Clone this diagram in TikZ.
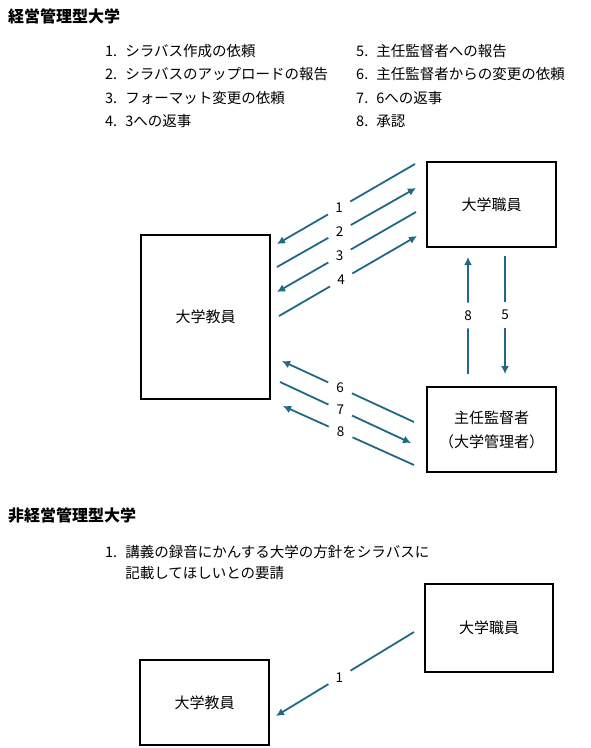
\documentclass[tikz,border=0pt]{standalone}
\usepackage{fontspec}
\setmainfont{Noto Sans CJK JP}
\usetikzlibrary{positioning}
\usetikzlibrary{arrows.meta}
\definecolor{flowc}{RGB}{31,104,134}

\begin{document}
\begin{tikzpicture}[x=1pt,y=-1pt,
    box/.style={draw,line width=2.2pt,minimum width=129pt,minimum height=85pt,
        font=\fontsize{15}{24}\selectfont,align=center},
    flow/.style={draw=flowc,line width=1.8pt,-{Latex[length=8pt,width=8pt]}},
    num/.style={circle,fill=white,inner sep=0pt,minimum size=26pt,
        font=\fontsize{13.5}{13.5}\selectfont},
    item/.style={anchor=west,inner sep=0pt,font=\fontsize{14.5}{21}\selectfont},
    head/.style={anchor=west,inner sep=0pt,font=\fontsize{16}{16}\selectfont\bfseries}]
    \useasboundingbox (0,0) rectangle (590,748);

    % 経営管理型大学
    \node[head] (title1) at (8,16) {経営管理型大学};
    \foreach \t [count=\i] in {シラバス作成の依頼,シラバスのアップロードの報告,
        フォーマット変更の依頼,3への返事}
        \node[item] (l\i) at (105,51+23.3*\i-23.3) {\i.\hspace{0.55em}\t};
    \foreach \t [count=\i from 5] in {主任監督者への報告,主任監督者からの変更の依頼,
        6への返事,承認}
        \node[item] (l\i) at (356,51+23.3*\i-116.5) {\i.\hspace{0.55em}\t};

    \node[box,minimum height=164pt] (fac) at (205.5,317) {大学教員};
    \node[box] (staff) at (491.5,204.5) {大学職員};
    \node[box,below=138pt of staff] (sup) {主任監督者\\（大学管理者）};

    \coordinate (s1) at (415,164); \coordinate (f1) at (277,244);
    \coordinate (f2) at (277,267); \coordinate (s2) at (416,188);
    \coordinate (s3) at (416,212); \coordinate (f3) at (277,292);
    \coordinate (f4) at (279,316); \coordinate (s4) at (417,236);
    \coordinate (u1) at (468,374); \coordinate (u2) at (468,257);
    \coordinate (d1) at (505,256); \coordinate (d2) at (505,374);
    \coordinate (m6) at (414,422); \coordinate (f6) at (282,361);
    \coordinate (f7) at (280,382); \coordinate (m7) at (411,443);
    \coordinate (m8) at (414,465); \coordinate (f8) at (283,406);

    \foreach \a/\b/\n/\p in {s1/f1/1/.55,f2/s2/2/.45,s3/f3/3/.55,f4/s4/4/.45,
        u1/u2/8/.5,d1/d2/5/.5,m6/f6/6/.56,f7/m7/7/.46,m8/f8/8/.56}
        \draw[flow] (\a) -- (\b) node[num,pos=\p] {\n};

    % 非経営管理型大学
    \node[head] (title2) at (8,515) {非経営管理型大学};
    \node[item,align=left] (req) at (105,562.5)
        {1.\hspace{0.55em}講義の録音にかんする大学の方針をシラバスに\\
         \phantom{1.\hspace{0.55em}}記載してほしいとの要請};

    \node[box] (fac2) at (204.5,702.5) {大学教員};
    \node[box,minimum width=128pt,minimum height=88pt] (staff2) at (489,628) {大学職員};

    \coordinate (t1) at (414,632); \coordinate (t2) at (276,716);
    \draw[flow] (t1) -- (t2) node[num,pos=.54] {1};
\end{tikzpicture}
\end{document}
